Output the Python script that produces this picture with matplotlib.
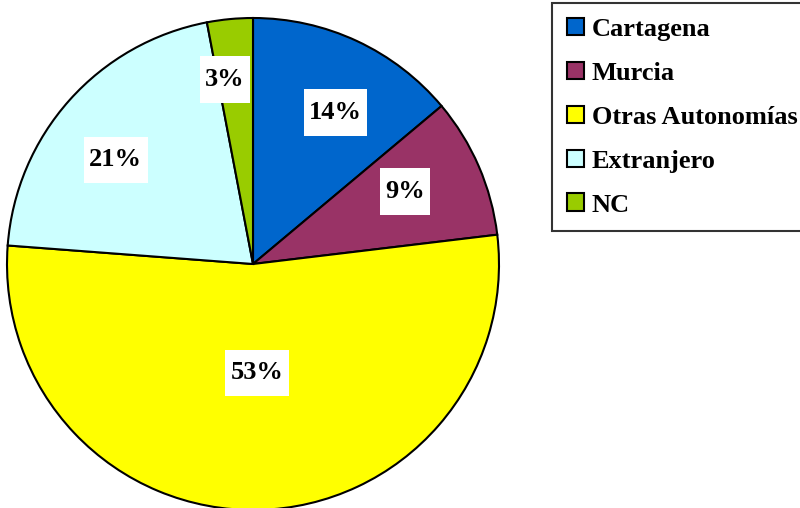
import matplotlib.pyplot as plt
import numpy as np
from matplotlib.path import Path

# Procedencia (share, in %)
categories = ['Cartagena', 'Murcia', 'Otras Autonomías', 'Extranjero', 'NC']
values = [13.9, 9.2, 53.1, 20.8, 3.0]
colors = ['#0066CC', '#993366', '#FFFF00', '#CCFFFF', '#99CC00']
label_dist = [0.70, 0.685, 0.443, 0.70, 0.76]
label_turn = [-3.6, 2.2, 0.8, 4.6, 3.2]

plt.rcParams['font.family'] = ['Liberation Serif', 'DejaVu Serif']
plt.rcParams['font.weight'] = 'bold'


def tall_box(x0, y0, width, height, mutation_size):
    # white label box, padded more vertically than horizontally
    px = 0.2 * mutation_size
    py = 0.45 * mutation_size
    x0, y0 = x0 - px, y0 - py
    x1, y1 = x0 + width + 2 * px, y0 + height + 2 * py
    return Path([(x0, y0), (x1, y0), (x1, y1), (x0, y1), (x0, y0)], closed=True)


fig = plt.figure(figsize=(8, 5.08), dpi=100)
ax = fig.add_axes([7 / 800, -2 / 508, 492 / 800, 492 / 508])

wedges, _ = ax.pie(values, colors=colors, startangle=90, counterclock=False,
                   wedgeprops=dict(edgecolor='black', linewidth=1.5))

total = sum(values)
for w, v, d, t in zip(wedges, values, label_dist, label_turn):
    mid = np.deg2rad((w.theta1 + w.theta2) / 2 + t)
    ax.text(d * np.cos(mid), d * np.sin(mid), '%d%%' % round(v / total * 100),
            ha='center', va='center', fontsize=19, fontweight='bold',
            bbox=dict(boxstyle=tall_box, facecolor='white', edgecolor='none'))

ax.set_xlim(-1, 1)
ax.set_ylim(-1, 1)
ax.set_aspect('equal')
ax.axis('off')

leg = fig.legend(wedges, categories, loc='upper left',
                 bbox_to_anchor=(552 / 800, 1 - 3 / 508), borderaxespad=0,
                 fancybox=False, edgecolor='black',
                 handlelength=0.65, handleheight=0.65, handletextpad=0.3,
                 labelspacing=0.79, borderpad=0.56,
                 prop={'weight': 'bold', 'size': 19})
leg.get_frame().set_linewidth(1.5)
for h in leg.legend_handles:
    h.set_linewidth(1.5)

fig.savefig('out.png', dpi=100)
